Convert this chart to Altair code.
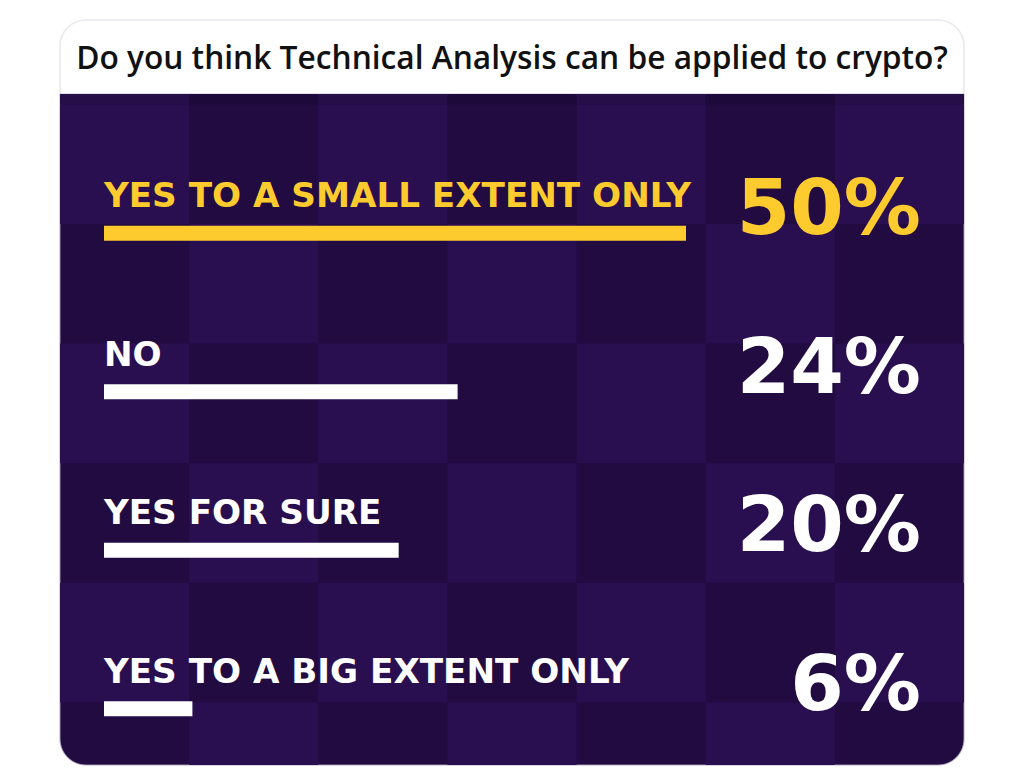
import altair as alt
import pandas as pd

# ---- data ----
answers = ["YES TO A SMALL EXTENT ONLY", "NO", "YES FOR SURE", "YES TO A BIG EXTENT ONLY"]
shares = [50, 24, 20, 6]
highlight = ["top", "other", "other", "other"]
title_text = "Do you think Technical Analysis can be applied to crypto?"

grid_cols = list(range(7))
grid_rows = list(range(-1, 6))

# ---- styles ----
YELLOW = "#FDCB2E"
LIGHT = "#2A0F50"
DARK = "#210B40"
STRIP_LIGHT = "#260E48"
STRIP_DARK = "#1E0A3A"

df = pd.DataFrame({
    "answer": answers,
    "share": shares,
    "hl": highlight,
})
df["label"] = [f"{v}%" for v in shares]

cells = []
for r in grid_rows:
    for c in grid_cols:
        light = (r + c) % 2 == 0 if r >= 0 else c % 2 == 0
        if r < 0:
            shade = "strip_light" if light else "strip_dark"
        else:
            if not light:
                continue
            shade = "light"
        cells.append({"c": c, "c2": c + 1, "r": r, "r2": r + 1, "shade": shade})
cells_df = pd.DataFrame(cells)

one = alt.Data(values=[{"k": 1}])

card = alt.Chart(one).mark_rect(
    fill="white", stroke="#e9e9ee", strokeWidth=1.5, cornerRadius=26
).encode(
    x=alt.value(60), x2=alt.value(964), y=alt.value(20), y2=alt.value(765)
)

panel = alt.Chart(one).mark_rect(
    fill=DARK, cornerRadiusBottomLeft=26, cornerRadiusBottomRight=26,
    stroke="#b9b0c8", strokeWidth=0.8
).encode(
    x=alt.value(60), x2=alt.value(964), y=alt.value(94), y2=alt.value(765)
)

xs_grid = alt.Scale(domain=[0, 7], range=[60, 964])
ys_grid = alt.Scale(domain=[(94 - 104.4) / 119.6, (765 - 104.4) / 119.6],
                    range=[94, 765], clamp=True, zero=False, nice=False)

checker = alt.Chart(cells_df).mark_rect().encode(
    x=alt.X("c:Q", scale=xs_grid, axis=None),
    x2="c2:Q",
    y=alt.Y("r:Q", scale=ys_grid, axis=None),
    y2="r2:Q",
    color=alt.Color("shade:N", legend=None,
                    scale=alt.Scale(domain=["light", "strip_light", "strip_dark"],
                                    range=[LIGHT, STRIP_LIGHT, STRIP_DARK])),
)

xs_bar = alt.Scale(domain=[0, 39.5], range=[104, 686], clamp=True, nice=False)
ys_bar = alt.Scale(domain=answers, range=[154, 788], paddingInner=0, paddingOuter=0)
col = alt.Color("hl:N", legend=None,
                scale=alt.Scale(domain=["top", "other"], range=[YELLOW, "#ffffff"]))

bars = alt.Chart(df).mark_bar(size=15).encode(
    x=alt.X("share:Q", scale=xs_bar, axis=None),
    y=alt.Y("answer:N", scale=ys_bar, axis=None, sort=answers),
    color=col,
)

labels = alt.Chart(df).mark_text(
    font="DejaVu Sans", fontWeight="bold", fontSize=34.2, align="left",
    baseline="alphabetic", dy=-26
).encode(
    x=alt.X("zero:Q", scale=xs_bar, axis=None),
    y=alt.Y("answer:N", scale=ys_bar, axis=None, sort=answers),
    text="answer:N",
    color=col,
).transform_calculate(zero="0")

pcts = alt.Chart(df).mark_text(
    font="DejaVu Sans", fontWeight="bold", fontSize=77, align="right",
    baseline="alphabetic", dy=1
).encode(
    x=alt.value(921),
    y=alt.Y("answer:N", scale=ys_bar, axis=None, sort=answers),
    text="label:N",
    color=col,
)

title = alt.Chart(one).mark_text(
    font="Open Sans", fontWeight=600, fontSize=31.7, align="center",
    baseline="alphabetic", color="#111111"
).encode(
    x=alt.value(512), y=alt.value(69), text=alt.value(title_text)
)

chart = alt.layer(card, panel, checker, bars, labels, pcts, title).resolve_scale(
    x="independent", y="independent", color="independent"
).properties(
    width=1024, height=775, padding=0, autosize="none", background="white"
).configure_view(stroke=None)

chart.save("out.html", embed_options={"renderer": "svg", "actions": False})
